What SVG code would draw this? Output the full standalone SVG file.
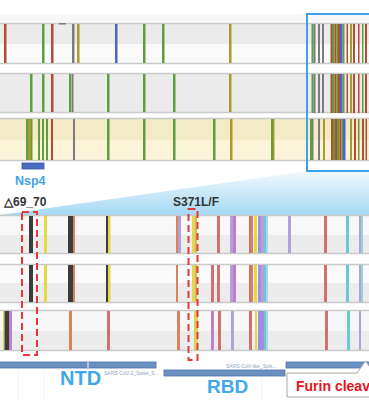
<svg xmlns="http://www.w3.org/2000/svg" xmlns:xlink="http://www.w3.org/1999/xlink" width="369" height="410" viewBox="0 0 369 410">
<style>
.bd{fill:none;stroke:#c9c9c9;stroke-width:1.5}
.g{fill:#5e9e3e}.r{fill:#b84a32}.k{fill:#7c7c7c}.o{fill:#a99a2c}.b{fill:#4a62d2}
.dk{fill:#3c3c3c}.y{fill:#e2d84a}.or{fill:#d8825e}.rd{fill:#d27070}.pu{fill:#b2a0da}.pk{fill:#c47cc8}.cy{fill:#6ec6d6}.bp{fill:#9a92e0}
.lab{font-family:"Liberation Sans",Arial,sans-serif;font-weight:bold}
.dash{fill:none;stroke:#e8363a;stroke-width:2;stroke-dasharray:7 4}
.ann{fill:#6a90c2;stroke:#4b72a8;stroke-width:0.8}
.tiny{font-family:"Liberation Sans",Arial,sans-serif;font-size:5px;fill:#8ea4c4}
</style>
<defs>
<linearGradient id="fan" x1="0" y1="0" x2="0" y2="1">
<stop offset="0" stop-color="#f2f9fd"/>
<stop offset="1" stop-color="#a4d9f5"/>
</linearGradient>
<g id="denseTop">
<rect class="g" x="311.5" y="0" width="2" height="39"/>
<rect class="k" x="313.5" y="0" width="2" height="39"/>
<rect class="k" x="318" y="0" width="2" height="39"/>
<rect class="k" x="322" y="0" width="2" height="39"/>
<rect class="r" x="330.5" y="0" width="1.5" height="39"/>
<rect class="g" x="332" y="0" width="2.5" height="39"/>
<rect class="r" x="334.5" y="0" width="2" height="39"/>
<rect class="g" x="336.5" y="0" width="1.5" height="39"/>
<rect class="r" x="338" y="0" width="2" height="39"/>
<rect class="b" x="340" y="0" width="2.5" height="39"/>
<rect class="g" x="342.5" y="0" width="2" height="39"/>
<rect class="r" x="346.5" y="0" width="1.5" height="39"/>
<rect class="o" x="350" y="0" width="2" height="39"/>
<rect class="r" x="353" y="0" width="2" height="39"/>
<rect class="r" x="358" y="0" width="1.5" height="39"/>
<rect class="g" x="362" y="0" width="1.5" height="39"/>
<rect class="r" x="365" y="0" width="2" height="39"/>
</g>
</defs>
<rect x="0" y="0" width="369" height="410" fill="#ffffff"/>
<rect x="0" y="14" width="369" height="8" fill="#f7f7f7"/>

<g id="track1">
<rect x="0" y="23" width="369" height="21" fill="#ebebeb"/>
<rect x="0" y="44" width="369" height="20" fill="#fafafa"/>
<line class="bd" x1="0" y1="23.5" x2="369" y2="23.5"/>
<line class="bd" x1="0" y1="63.5" x2="369" y2="63.5"/>
<rect class="r" x="4" y="24" width="2.5" height="39"/>
<rect class="g" x="42" y="24" width="2.5" height="39"/>
<rect class="r" x="51" y="24" width="2.5" height="39"/>
<rect class="k" x="59" y="23" width="7" height="1.5"/>
<rect class="k" x="72" y="24" width="2.5" height="39"/>
<rect class="o" x="77" y="24" width="2.5" height="39"/>
<rect class="b" x="115" y="24" width="2.5" height="39"/>
<rect class="g" x="143" y="24" width="2.5" height="39"/>
<rect class="g" x="162" y="24" width="2.5" height="39"/>
<rect class="o" x="229" y="24" width="2.5" height="39"/>
<use xlink:href="#denseTop" y="24"/>
</g>

<g id="track2">
<rect x="0" y="73" width="369" height="40" fill="#ebebeb"/>
<line class="bd" x1="0" y1="73.5" x2="369" y2="73.5"/>
<line class="bd" x1="0" y1="112.5" x2="369" y2="112.5"/>
<rect class="g" x="30" y="74" width="2.5" height="38"/>
<rect class="g" x="42" y="74" width="2.5" height="38"/>
<rect class="r" x="51" y="74" width="2.5" height="38"/>
<rect class="g" x="69" y="74" width="2" height="38"/>
<rect class="k" x="71.5" y="74" width="2" height="38"/>
<rect class="g" x="107" y="74" width="2.5" height="38"/>
<rect class="g" x="143" y="74" width="2.5" height="38"/>
<rect class="g" x="173" y="74" width="2.5" height="38"/>
<rect class="o" x="229" y="74" width="2.5" height="38"/>
<use xlink:href="#denseTop" y="74"/>
</g>

<g id="track3">
<rect x="0" y="118" width="369" height="22" fill="#f3eac6"/>
<rect x="0" y="140" width="369" height="21" fill="#fbf4d8"/>
<line class="bd" x1="0" y1="118.5" x2="369" y2="118.5"/>
<line class="bd" x1="0" y1="160.5" x2="369" y2="160.5"/>
<rect class="g" x="26" y="119" width="2" height="41"/>
<rect class="o" x="28" y="119" width="3" height="41"/>
<rect class="g" x="31" y="119" width="1.5" height="41"/>
<rect class="g" x="38" y="119" width="2" height="41"/>
<rect class="g" x="42" y="119" width="2" height="41"/>
<rect class="g" x="46" y="119" width="2" height="41"/>
<rect class="r" x="51" y="119" width="2" height="41"/>
<rect class="k" x="73" y="119" width="2" height="41"/>
<rect class="g" x="107" y="119" width="2.5" height="41"/>
<rect class="g" x="143" y="119" width="2.5" height="41"/>
<rect class="g" x="173" y="119" width="2.5" height="41"/>
<rect class="g" x="213" y="119" width="2.5" height="41"/>
<rect class="o" x="230" y="119" width="2.5" height="41"/>
<rect class="g" x="271" y="119" width="2" height="41"/>
<rect class="o" x="273" y="119" width="1.5" height="41"/>
<rect class="g" x="310" y="119" width="2" height="41"/>
<rect class="k" x="312" y="119" width="1.5" height="41"/>
<rect class="k" x="318" y="119" width="2" height="41"/>
<rect class="o" x="323" y="119" width="2" height="41"/>
<rect class="r" x="331" y="119" width="2" height="41"/>
<rect class="g" x="333" y="119" width="2" height="41"/>
<rect class="r" x="335" y="119" width="2" height="41"/>
<rect class="g" x="337" y="119" width="2.5" height="41"/>
<rect class="r" x="339.5" y="119" width="2" height="41"/>
<rect class="g" x="341.5" y="119" width="1.5" height="41"/>
<rect class="b" x="343" y="119" width="2.5" height="41"/>
<rect class="o" x="350" y="119" width="2" height="41"/>
<rect class="r" x="354" y="119" width="2" height="41"/>
<rect class="g" x="358" y="119" width="1.5" height="41"/>
<rect class="r" x="362" y="119" width="2" height="41"/>
<rect class="r" x="365.5" y="119" width="1.5" height="41"/>
</g>

<g id="zoom-box">
<polygon points="307,171 369,171 369,215 0,215" fill="url(#fan)"/>
<rect x="307" y="14" width="70" height="157" fill="none" stroke="#3aa2ec" stroke-width="2"/>
</g>

<g id="nsp4">
<rect x="22" y="163" width="22" height="6" fill="#4a6cc2" stroke="#3a58a6" stroke-width="0.8"/>
<text class="lab" x="15" y="185" font-size="12.5" fill="#3fa3e8">Nsp4</text>
</g>

<text class="lab" x="4" y="206" font-size="12" fill="#333333">△69_70</text>
<text class="lab" x="173" y="206" font-size="12" fill="#333333">S371L/F</text>

<g id="trackA">
<rect x="0" y="215" width="369" height="20" fill="#f8f8f8"/>
<rect x="0" y="235" width="369" height="19" fill="#ececec"/>
<line class="bd" x1="0" y1="215.5" x2="369" y2="215.5"/>
<line class="bd" x1="0" y1="253.5" x2="369" y2="253.5"/>
<rect class="dk" x="29" y="216" width="4" height="37"/>
<rect class="y" x="44" y="216" width="3" height="37"/>
<rect class="dk" x="68" y="216" width="5" height="37"/>
<rect class="or" x="73" y="216" width="2" height="37"/>
<rect class="dk" x="106" y="216" width="2" height="37"/>
<rect class="y" x="108" y="216" width="2.5" height="37"/>
<rect class="or" x="176" y="216" width="2" height="37"/>
<rect class="pu" x="178" y="216" width="3" height="37"/>
<rect class="y" x="192" y="216" width="3" height="37"/>
<rect fill="#c8c060" x="195" y="216" width="2" height="37"/>
<rect class="rd" x="217" y="216" width="3" height="37"/>
<rect class="pu" x="230" y="216" width="3" height="37"/>
<rect class="pk" x="233" y="216" width="3" height="37"/>
<rect class="rd" x="249" y="216" width="2" height="37"/>
<rect class="or" x="251" y="216" width="2" height="37"/>
<rect class="y" x="254" y="216" width="3" height="37"/>
<rect class="bp" x="258" y="216" width="3" height="37"/>
<rect class="pu" x="261" y="216" width="3" height="37"/>
<rect class="cy" x="264" y="216" width="2" height="37"/>
<rect fill="#a6dae2" x="266" y="216" width="2" height="37"/>
<rect class="pu" x="288" y="216" width="3" height="37"/>
<rect class="rd" x="324" y="216" width="3" height="37"/>
<rect class="cy" x="346" y="216" width="3" height="37"/>
<rect class="pu" x="359" y="216" width="2" height="37"/>
<rect fill="#96d2e0" x="361" y="216" width="2" height="37"/>
</g>

<g id="trackB">
<rect x="0" y="264" width="369" height="19" fill="#fafafa"/>
<rect x="0" y="283" width="369" height="20" fill="#ececec"/>
<line class="bd" x1="0" y1="264.5" x2="369" y2="264.5"/>
<line class="bd" x1="0" y1="302.5" x2="369" y2="302.5"/>
<rect class="dk" x="29" y="265" width="4" height="37"/>
<rect class="y" x="44" y="265" width="3" height="37"/>
<rect class="dk" x="68" y="265" width="5" height="37"/>
<rect class="or" x="73" y="265" width="2" height="37"/>
<rect class="dk" x="106" y="265" width="2" height="37"/>
<rect class="y" x="108" y="265" width="2.5" height="37"/>
<rect class="or" x="176" y="265" width="2" height="37"/>
<rect class="y" x="192" y="265" width="3" height="37"/>
<rect fill="#c8c060" x="195" y="265" width="2" height="37"/>
<rect class="rd" x="211" y="265" width="3" height="37"/>
<rect class="rd" x="217" y="265" width="3" height="37"/>
<rect class="pu" x="230" y="265" width="3" height="37"/>
<rect class="pk" x="233" y="265" width="3" height="37"/>
<rect class="rd" x="249" y="265" width="2" height="37"/>
<rect class="or" x="251" y="265" width="2" height="37"/>
<rect class="y" x="254" y="265" width="3" height="37"/>
<rect class="bp" x="258" y="265" width="3" height="37"/>
<rect class="pu" x="261" y="265" width="3" height="37"/>
<rect class="cy" x="264" y="265" width="2" height="37"/>
<rect fill="#a6dae2" x="266" y="265" width="2" height="37"/>
<rect class="rd" x="324" y="265" width="3" height="37"/>
<rect class="cy" x="346" y="265" width="3" height="37"/>
<rect class="pu" x="359" y="265" width="2" height="37"/>
<rect fill="#96d2e0" x="361" y="265" width="2" height="37"/>
</g>

<g id="trackC">
<rect x="0" y="310" width="369" height="21" fill="#f7f7f7"/>
<rect x="0" y="331" width="369" height="20" fill="#ececec"/>
<line class="bd" x1="0" y1="310.5" x2="369" y2="310.5"/>
<line class="bd" x1="0" y1="350.5" x2="369" y2="350.5"/>
<rect class="y" x="3" y="311" width="1.5" height="39"/>
<rect class="dk" x="4.5" y="311" width="5" height="39"/>
<rect fill="#c27ed0" x="9.5" y="311" width="2.5" height="39"/>
<rect class="or" x="69" y="311" width="3" height="39"/>
<rect class="rd" x="107" y="311" width="3" height="39"/>
<rect class="or" x="177" y="311" width="3" height="39"/>
<rect fill="#d6d64e" x="194" y="311" width="4" height="39"/>
<rect class="pk" x="211" y="311" width="3" height="39"/>
<rect class="rd" x="218" y="311" width="3" height="39"/>
<rect class="pu" x="231" y="311" width="3" height="39"/>
<rect class="rd" x="249" y="311" width="3" height="39"/>
<rect class="y" x="255" y="311" width="2" height="39"/>
<rect class="bp" x="258" y="311" width="6" height="39"/>
<rect class="cy" x="264" y="311" width="2" height="39"/>
<rect fill="#a6dae2" x="266" y="311" width="2" height="39"/>
<rect class="rd" x="325" y="311" width="3" height="39"/>
<rect class="cy" x="347" y="311" width="3" height="39"/>
<rect class="pu" x="359" y="311" width="2" height="39"/>
</g>

<g id="highlights">
<rect class="dash" x="22" y="212" width="15" height="143"/>
<rect class="dash" x="188.5" y="209" width="9" height="151"/>
</g>

<g id="annotations">
<g stroke="#f0f0f0" stroke-width="0.8">
<line x1="18" y1="370" x2="18" y2="400"/>
<line x1="44" y1="370" x2="44" y2="400"/>
<line x1="209" y1="378" x2="209" y2="400"/>
<line x1="262" y1="378" x2="262" y2="400"/>
</g>
<rect class="ann" x="-1" y="362" width="157" height="6"/>
<line x1="88" y1="362" x2="88" y2="368" stroke="#ffffff" stroke-width="1"/>
<rect class="ann" x="164" y="370" width="121" height="6"/>
<rect class="ann" x="286" y="362" width="84" height="6"/>
<text class="tiny" x="104" y="375">SARS-CoV-2_Spike_S...</text>
<text class="tiny" x="226" y="368">SARS-CoV-like_Spik...</text>
<text class="lab" x="60" y="385" font-size="20" fill="#3fa7ea">NTD</text>
<text class="lab" x="207" y="393" font-size="19" fill="#3fa7ea">RBD</text>
</g>

<g id="furin">
<path d="M287,373 H357 L365.5,361 L374,373 V397 H287 Z" fill="#ffffff" stroke="#a8a8a8" stroke-width="1"/>
<text class="lab" x="296" y="391" font-size="14" fill="#e8141c">Furin cleav</text>
</g>
</svg>
